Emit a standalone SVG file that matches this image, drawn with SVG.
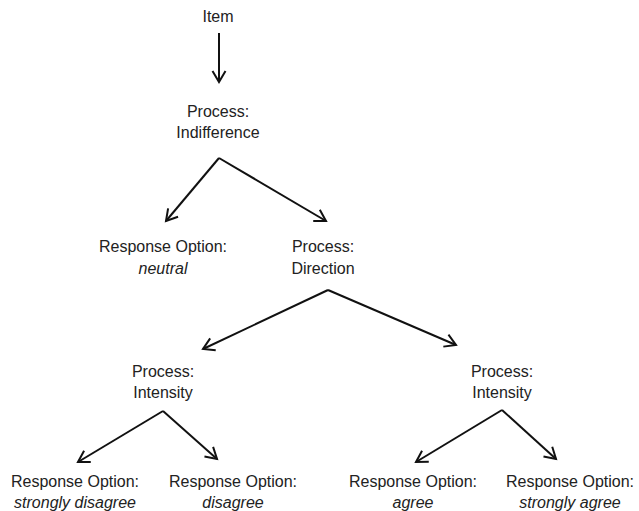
<svg xmlns="http://www.w3.org/2000/svg" width="639" height="511" viewBox="0 0 639 511">
<defs>
<style>
text{font-family:"Liberation Sans",Arial,sans-serif;font-size:16px;fill:#222;text-anchor:middle}
.i{font-style:italic}
.c line{stroke:#111;stroke-width:2;fill:none;marker-end:url(#a)}
</style>
<marker id="a" markerUnits="userSpaceOnUse" markerWidth="16" markerHeight="16" refX="12" refY="8" orient="auto" viewBox="0 0 16 16">
<path d="M1,1.5 L12,8 L1,14.5" fill="none" stroke="#111" stroke-width="2"/>
</marker>
</defs>
<rect width="639" height="511" fill="#fff"/>
<g class="c" id="connectors">
<line x1="219" y1="33" x2="219" y2="82"/>
<line x1="219" y1="158" x2="166" y2="221"/>
<line x1="219" y1="158" x2="326" y2="221"/>
<line x1="328" y1="290" x2="203" y2="349"/>
<line x1="328" y1="290" x2="456" y2="345"/>
<line x1="163" y1="411" x2="78" y2="462"/>
<line x1="163" y1="411" x2="217" y2="459"/>
<line x1="502" y1="410" x2="416" y2="462"/>
<line x1="502" y1="410" x2="556" y2="459"/>
</g>
<g id="item"><text x="218" y="22">Item</text></g>
<g id="indifference"><text x="218" y="117">Process:</text><text x="218" y="138">Indifference</text></g>
<g id="neutral"><text x="163" y="252">Response Option:</text><text class="i" x="163" y="274">neutral</text></g>
<g id="direction"><text x="323" y="252">Process:</text><text x="323" y="274">Direction</text></g>
<g id="intensity-left"><text x="163" y="377">Process:</text><text x="163" y="398">Intensity</text></g>
<g id="intensity-right"><text x="502" y="377">Process:</text><text x="502" y="398">Intensity</text></g>
<g id="strongly-disagree"><text x="75" y="487">Response Option:</text><text class="i" x="75" y="508">strongly disagree</text></g>
<g id="disagree"><text x="233" y="487">Response Option:</text><text class="i" x="233" y="508">disagree</text></g>
<g id="agree"><text x="413" y="487">Response Option:</text><text class="i" x="413" y="508">agree</text></g>
<g id="strongly-agree"><text x="570" y="487">Response Option:</text><text class="i" x="570" y="508">strongly agree</text></g>
</svg>
